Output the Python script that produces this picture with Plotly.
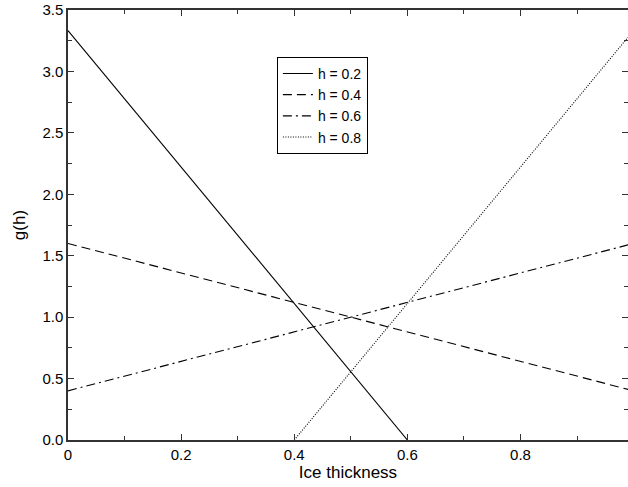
import plotly.graph_objects as go

# g(h) against ice thickness, for four values of h
names = ['h = 0.2', 'h = 0.4', 'h = 0.6', 'h = 0.8']
x_h02 = [0.0, 0.6]
y_h02 = [3.333, 0.0]
x_h04 = [0.0, 0.99]
y_h04 = [1.6, 0.412]
x_h06 = [0.0, 0.99]
y_h06 = [0.4, 1.588]
x_h08 = [0.4, 0.99]
y_h08 = [0.0, 3.278]

xs = [x_h02, x_h04, x_h06, x_h08]
ys = [y_h02, y_h04, y_h06, y_h08]
dashes = ['solid', '9px,5px', '9px,4px,2px,4px', '1px,1.5px']

fig = go.Figure()
for n, x, y, d in zip(names, xs, ys, dashes):
    fig.add_trace(go.Scatter(x=x, y=y, mode='lines', name=n,
                             line=dict(color='black', width=1.1, dash=d)))

axis_common = dict(showline=True, linecolor='#333', linewidth=1.5, mirror='ticks',
                   ticks='inside', ticklen=6, tickcolor='#333', showgrid=False,
                   zeroline=False, automargin=False,
                   tickfont=dict(size=15, color='black'))

fig.update_layout(
    width=628, height=487,
    margin=dict(l=68, r=0, t=10, b=47),
    paper_bgcolor='white', plot_bgcolor='white',
    font=dict(family='Liberation Sans, Arial, sans-serif', size=15, color='black'),
    xaxis=dict(range=[0, 0.99], tickvals=[0, 0.2, 0.4, 0.6, 0.8],
               minor=dict(ticks='inside', dtick=0.1, tick0=0, ticklen=4, tickcolor='#333'),
               title=dict(text='Ice thickness', standoff=2, font=dict(size=17)),
               **axis_common),
    yaxis=dict(range=[0, 3.5], dtick=0.5, tickformat='.1f',
               minor=dict(ticks='inside', dtick=0.25, tick0=0, ticklen=4, tickcolor='#333'),
               title=dict(text='g(h)', standoff=12, font=dict(size=17)),
               **axis_common),
    legend=dict(x=0.373, y=0.891, xanchor='left', yanchor='top',
                bordercolor='black', borderwidth=1, bgcolor='white',
                font=dict(size=14), tracegroupgap=0),
)

# drop the default page margin so the figure sits at the window's corner
fig.write_html("out.html", config={'displayModeBar': False},
               post_script="document.body.style.margin='0';")
